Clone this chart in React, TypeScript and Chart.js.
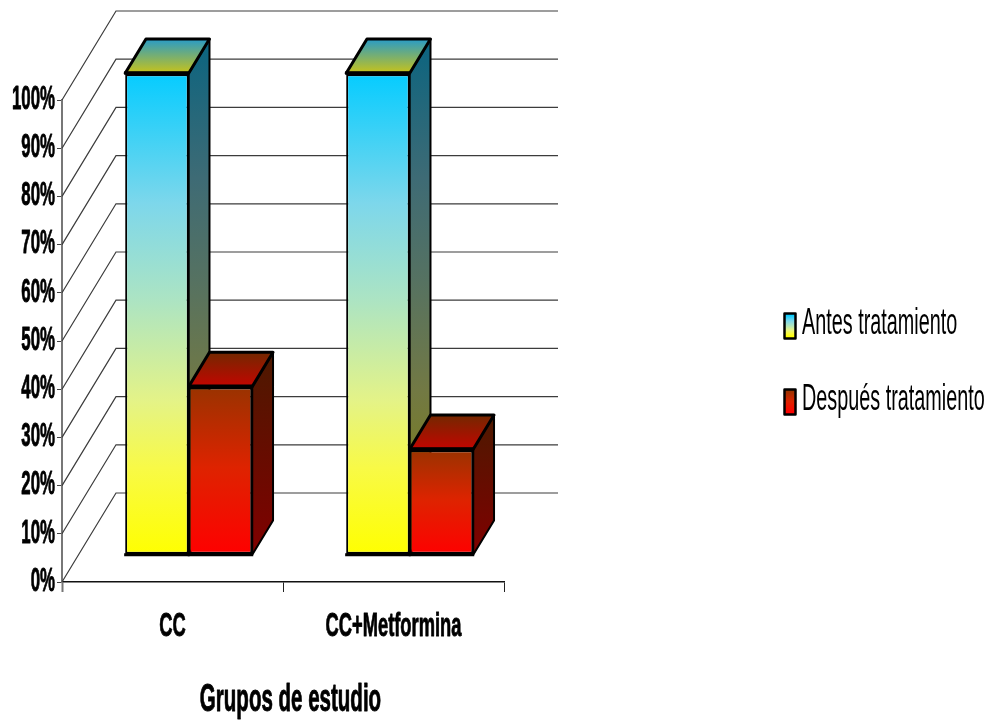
import React, { useEffect, useRef } from "react";
import { Chart, registerables } from "chart.js";

Chart.register(...registerables);

const categories = ["CC", "CC+Metformina"];
const antesValues = [100, 100];
const despuesValues = [35, 22];
const seriesLabels = ["Antes tratamiento", "Después tratamiento"];
const axisTitle = "Grupos de estudio";

// Oblique projection of the chart's floor: how far the back wall sits from the front edge.
const WALL_DX = 54;
const WALL_DY = 89;
const BAR_NEAR = 0.3;
const BAR_FAR = 0.685;

const FONT = '"Liberation Sans", Arial, sans-serif';

type Rgb = [number, number, number];
type Stop = [number, Rgb];
type Palette = { front: Stop[]; side: Stop[]; top: Stop[] };

const palettes: Palette[] = [
  {
    front: [
      [0, [5, 204, 255]],
      [0.27, [125, 215, 235]],
      [0.47, [172, 228, 195]],
      [0.68, [228, 243, 135]],
      [0.82, [248, 250, 70]],
      [1, [255, 255, 0]],
    ],
    side: [
      [0, [10, 100, 128]],
      [0.27, [62, 107, 117]],
      [0.47, [86, 114, 97]],
      [0.68, [114, 121, 68]],
      [1, [128, 128, 0]],
    ],
    top: [
      [0, [40, 155, 200]],
      [1, [200, 195, 25]],
    ],
  },
  {
    front: [
      [0, [153, 51, 0]],
      [0.48, [222, 35, 0]],
      [1, [255, 0, 0]],
    ],
    side: [
      [0, [77, 25, 0]],
      [1, [128, 0, 0]],
    ],
    top: [
      [0, [115, 40, 0]],
      [1, [195, 5, 0]],
    ],
  },
];

const css = (c: Rgb) => `rgb(${c[0]},${c[1]},${c[2]})`;

function vGradient(ctx: CanvasRenderingContext2D, y0: number, y1: number, stops: Stop[]) {
  const g = ctx.createLinearGradient(0, y0, 0, y1);
  stops.forEach(([at, c]) => g.addColorStop(at, css(c)));
  return g;
}

// Arial-style text compressed horizontally, as the chart's lettering is very narrow.
function narrowText(
  ctx: CanvasRenderingContext2D,
  text: string,
  x: number,
  y: number,
  font: string,
  squeeze: number,
  align: CanvasTextAlign,
  heavy = false
) {
  ctx.save();
  ctx.translate(x, y);
  ctx.scale(squeeze, 1);
  ctx.font = font;
  ctx.fillStyle = "#000";
  ctx.textAlign = align;
  ctx.textBaseline = "middle";
  ctx.fillText(text, 0, 0);
  if (heavy) {
    ctx.strokeStyle = "#000";
    ctx.lineWidth = 0.9;
    ctx.lineJoin = "round";
    ctx.strokeText(text, 0, 0);
  }
  ctx.restore();
}

function face(ctx: CanvasRenderingContext2D, pts: number[][], fill: CanvasGradient, lw: number) {
  ctx.beginPath();
  pts.forEach((p, i) => (i ? ctx.lineTo(p[0], p[1]) : ctx.moveTo(p[0], p[1])));
  ctx.closePath();
  ctx.fillStyle = fill;
  ctx.fill();
  ctx.lineJoin = "round";
  ctx.lineWidth = lw;
  ctx.strokeStyle = "#000";
  ctx.stroke();
}

const box3dPlugin = {
  id: "box3d",
  beforeDatasetsDraw(chart: any) {
    const { ctx, chartArea, scales } = chart;
    const { left, right } = chartArea;

    // Back wall grid lines with their diagonals on the side wall.
    ctx.save();
    ctx.strokeStyle = "#3c3c3c";
    ctx.lineWidth = 1.2;
    scales.y.getTicks().forEach((t: any) => {
      const y = scales.y.getPixelForValue(t.value);
      ctx.beginPath();
      ctx.moveTo(left, y);
      ctx.lineTo(left + WALL_DX, y - WALL_DY);
      ctx.lineTo(right + WALL_DX, y - WALL_DY);
      ctx.stroke();
    });
    ctx.restore();

    // Side and top faces, left to right so nearer boxes overlap earlier ones.
    const ox = WALL_DX * BAR_NEAR;
    const oy = -WALL_DY * BAR_NEAR;
    const dx = WALL_DX * (BAR_FAR - BAR_NEAR);
    const dy = WALL_DY * (BAR_FAR - BAR_NEAR);
    const count = chart.data.labels.length;
    for (let i = 0; i < count; i++) {
      chart.data.datasets.forEach((_: any, d: number) => {
        const bar = chart.getDatasetMeta(d).data[i];
        const l = bar.x - bar.width / 2 + ox;
        const r = bar.x + bar.width / 2 + ox;
        const t = bar.y + oy;
        const b = bar.base + oy;
        const p = palettes[d];
        face(
          ctx,
          [[r, t], [r + dx, t - dy], [r + dx, b - dy], [r, b]],
          vGradient(ctx, t - dy, b, p.side),
          2
        );
        face(
          ctx,
          [[l, t], [l + dx, t - dy], [r + dx, t - dy], [r, t]],
          vGradient(ctx, t - dy, t, p.top),
          3
        );
      });
    }

    // Front faces are the chart's own bars, pushed back onto the floor.
    ctx.save();
    ctx.translate(ox, oy);
  },
  afterDatasetsDraw(chart: any) {
    const { ctx, scales, chartArea } = chart;

    // Heavier rule along the top and foot of each front face.
    ctx.strokeStyle = "#000";
    ctx.lineWidth = 3;
    chart.data.datasets.forEach((_: any, d: number) => {
      chart.getDatasetMeta(d).data.forEach((bar: any) => {
        const l = bar.x - bar.width / 2;
        const r = bar.x + bar.width / 2;
        [bar.y - 0.5, bar.base].forEach((y: number) => {
          ctx.beginPath();
          ctx.moveTo(l - 1, y);
          ctx.lineTo(r + 1, y);
          ctx.stroke();
        });
      });
    });
    ctx.restore();

    scales.y.getTicks().forEach((t: any) => {
      narrowText(ctx, t.label, 55, scales.y.getPixelForValue(t.value) - 0.5, `bold 34px ${FONT}`, 0.495, "right", true);
    });
    scales.x.getTicks().forEach((t: any, i: number) => {
      narrowText(ctx, categories[t.value], scales.x.getPixelForTick(i), 627, `bold 33px ${FONT}`, 0.555, "center", true);
    });
    narrowText(ctx, axisTitle, (chartArea.left + chartArea.right) / 2 + 7.5, 701, `bold 38px ${FONT}`, 0.54, "center", true);

    // Legend
    const rows = [326, 402];
    chart.data.datasets.forEach((ds: any, d: number) => {
      const cy = rows[d];
      ctx.fillStyle = vGradient(ctx, cy - 11, cy + 11, palettes[d].front);
      ctx.fillRect(785, cy - 12, 10, 24);
      ctx.lineWidth = 2.5;
      ctx.strokeStyle = "#000";
      ctx.strokeRect(784.5, cy - 12.5, 11, 25);
      narrowText(ctx, ds.label, 802, cy - 1.5, `36px ${FONT}`, 0.55, "left");
    });
  },
};

export default function App() {
  const ref = useRef<HTMLCanvasElement | null>(null);

  useEffect(() => {
    document.body.style.margin = "0";
    const frontFill = (d: number) => (c: any) => {
      const scale = c.chart.scales.y;
      const value = c.dataset.data[c.dataIndex];
      const y0 = scale ? scale.getPixelForValue(value) : NaN;
      const y1 = scale ? scale.getPixelForValue(0) : NaN;
      // Options are also resolved before the scale has been laid out.
      if (!Number.isFinite(y0) || !Number.isFinite(y1)) return css(palettes[d].front[0][1]);
      return vGradient(c.chart.ctx, y0, y1, palettes[d].front);
    };
    const shared = {
      borderColor: "#000",
      borderWidth: { top: 3, bottom: 3, left: 2, right: 2 },
      borderSkipped: false,
      clip: false,
      categoryPercentage: 0.575,
      barPercentage: 1,
    };
    const chart = new Chart(ref.current as HTMLCanvasElement, {
      type: "bar",
      data: {
        labels: categories,
        datasets: [
          { label: seriesLabels[0], data: antesValues, backgroundColor: frontFill(0), ...shared },
          { label: seriesLabels[1], data: despuesValues, backgroundColor: frontFill(1), ...shared },
        ],
      } as any,
      options: {
        responsive: false,
        animation: false,
        events: [],
        layout: { padding: { top: 100, right: 491, left: 0, bottom: 0 } },
        plugins: { legend: { display: false }, title: { display: false }, tooltip: { enabled: false } },
        scales: {
          x: {
            afterFit(s: any) {
              s.height = 143;
            },
            ticks: { display: false },
            border: { color: "#111", width: 1.5 },
            grid: {
              drawOnChartArea: false,
              tickLength: 10,
              tickColor: (c: any) => (c.index === 0 ? "#777" : "#222"),
              tickWidth: (c: any) => (c.index === 0 ? 2 : 1),
            },
          },
          y: {
            min: 0,
            max: 100,
            afterFit(s: any) {
              s.width = 62;
            },
            ticks: { display: false, stepSize: 10, callback: (v: any) => `${v}%` },
            border: { color: "#777", width: 2 },
            grid: { drawOnChartArea: false, tickLength: 5, tickColor: "#444" },
          },
        },
      } as any,
      plugins: [box3dPlugin as any],
    });
    return () => chart.destroy();
  }, []);

  return (
    <div style={{ position: "absolute", left: 0, top: 0, width: 995, height: 725, background: "#fff" }}>
      <canvas ref={ref} width={995} height={725} style={{ display: "block" }} />
    </div>
  );
}
